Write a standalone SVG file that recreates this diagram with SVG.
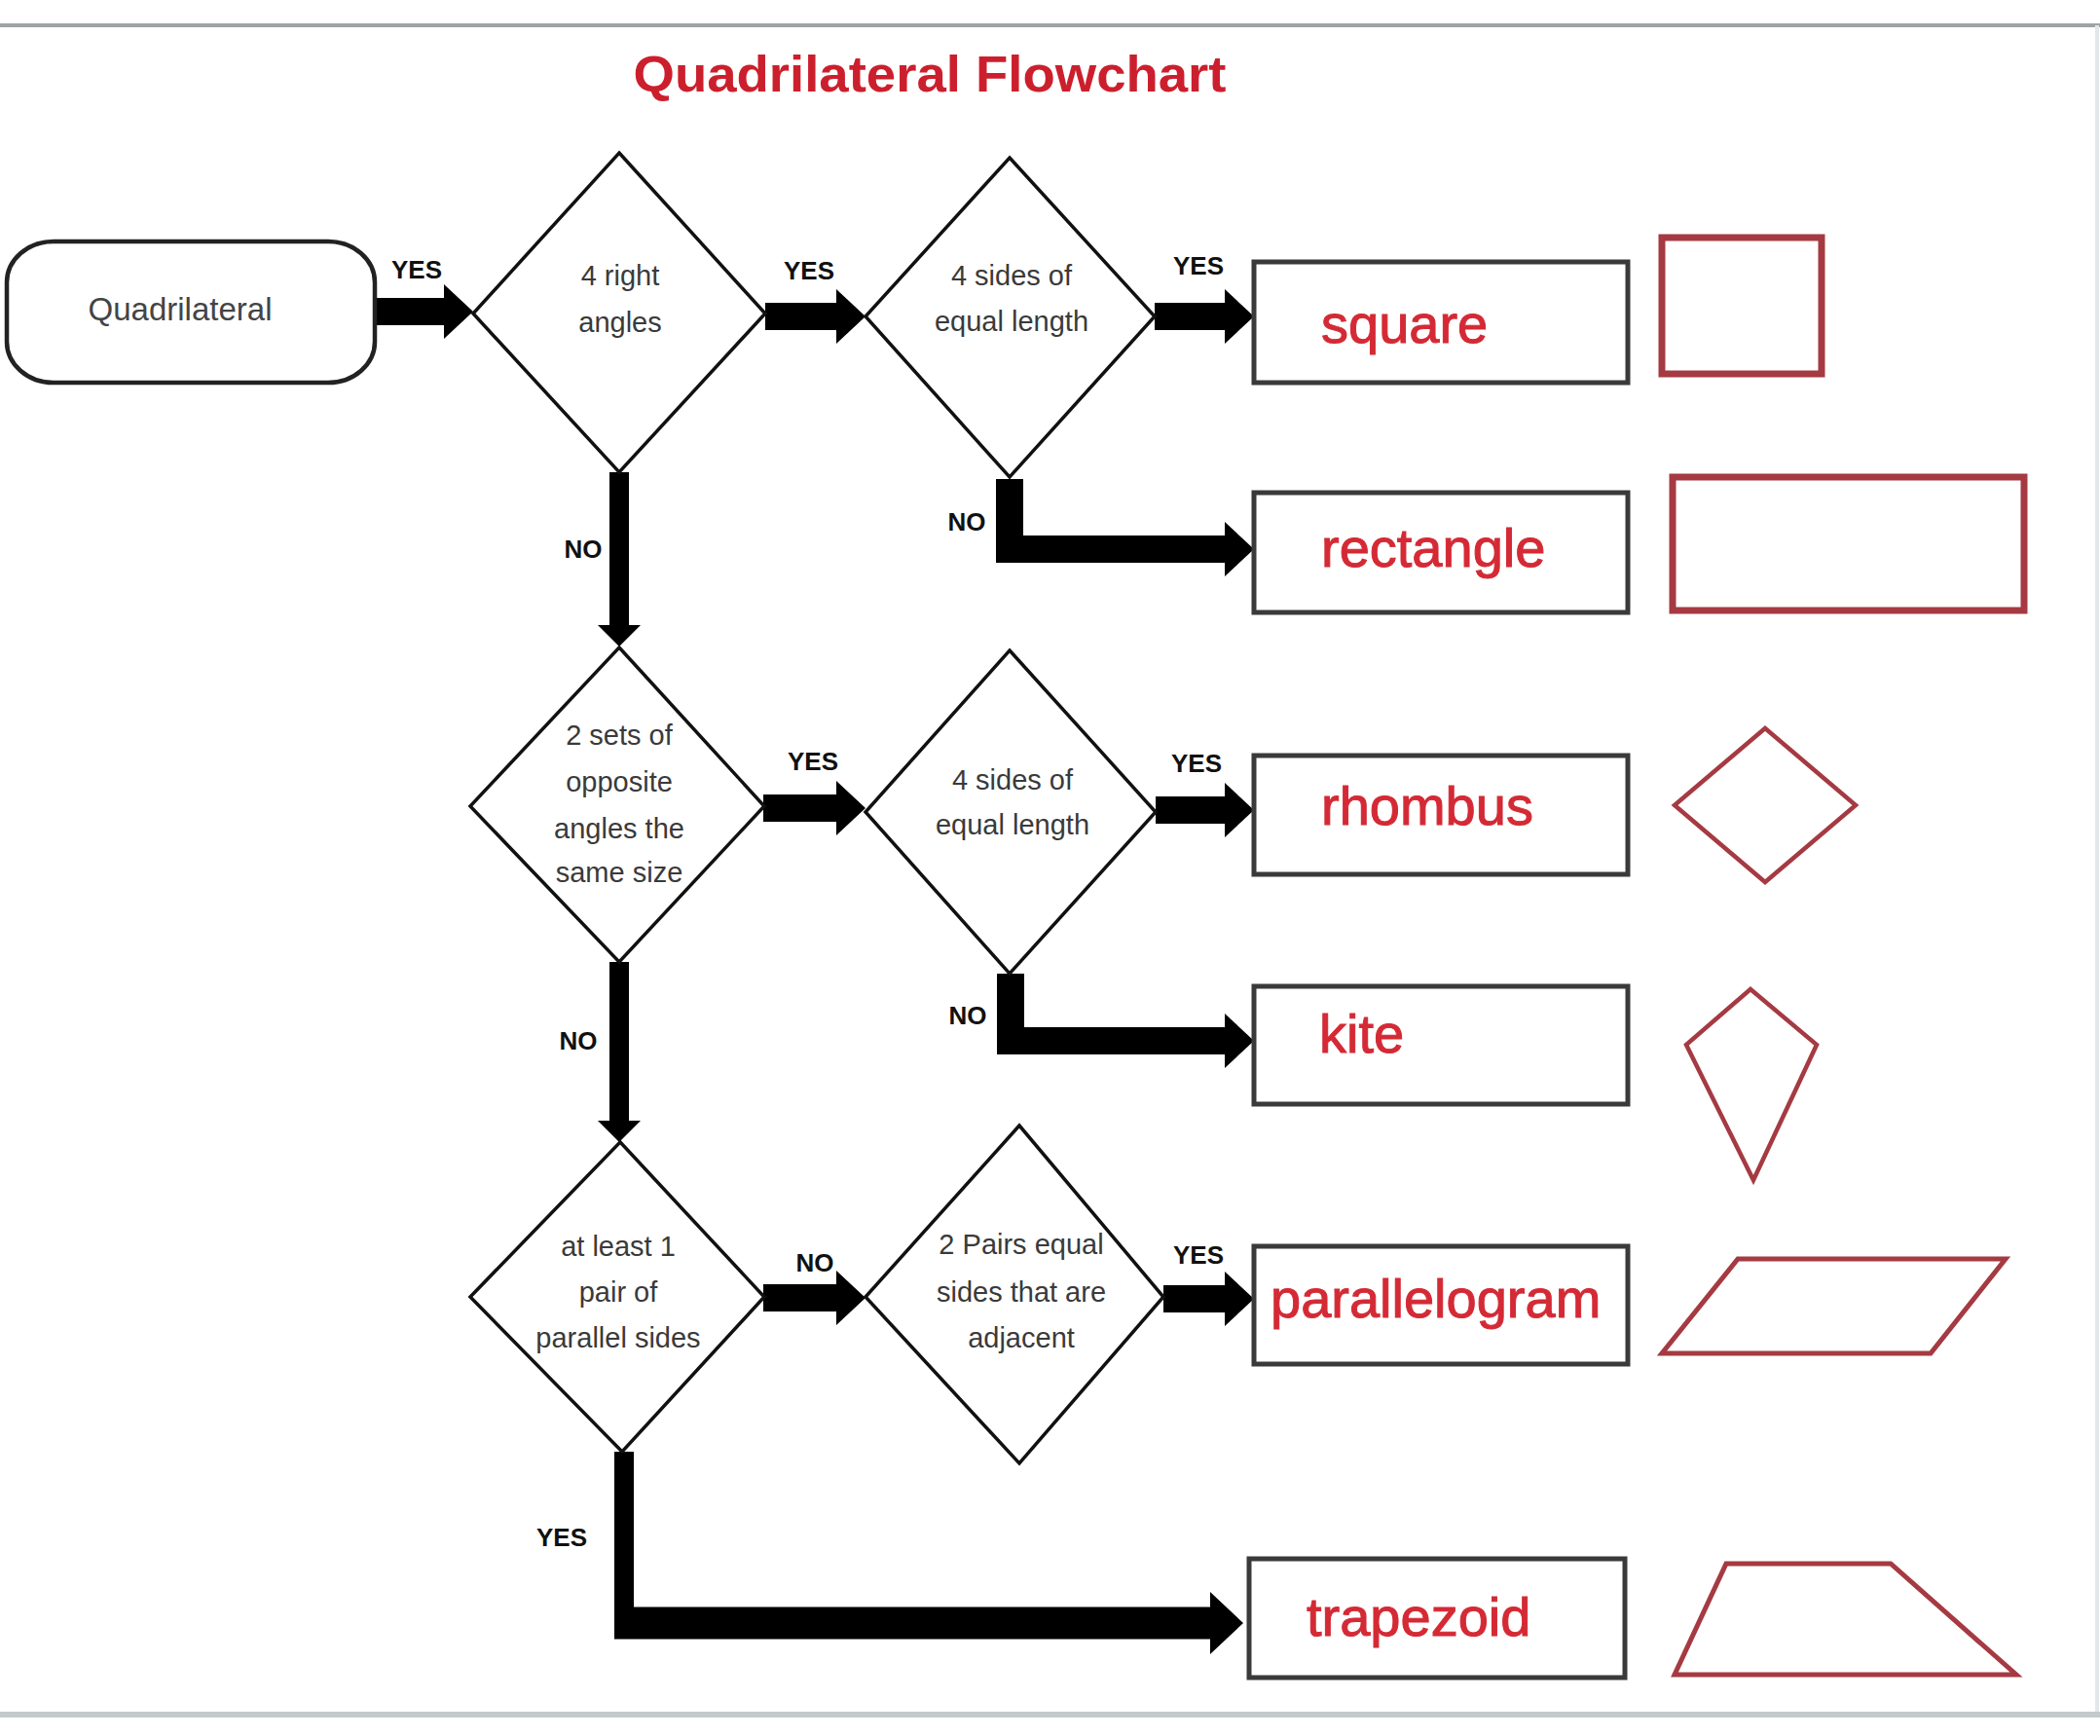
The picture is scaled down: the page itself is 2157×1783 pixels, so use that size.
<svg xmlns="http://www.w3.org/2000/svg" width="2157" height="1783" viewBox="0 0 2157 1783">
<defs>
<style>
.frame{fill:none;stroke-linecap:butt}
.term{fill:#fff;stroke:#222;stroke-width:4.5}
.dia{fill:#fff;stroke:#111;stroke-width:3.5;stroke-linejoin:miter}
.box{fill:#fff;stroke:#3a3a3a;stroke-width:5}
.shape{fill:none;stroke:#a53a42;stroke-linejoin:miter}
.conn{fill:none;stroke:#000;stroke-linecap:butt;stroke-linejoin:miter}
.dt{font-family:"Liberation Sans",Arial,sans-serif;font-size:29px;fill:#3a3a3a;text-anchor:middle}
.lbl{font-family:"Liberation Sans",Arial,sans-serif;font-size:26px;font-weight:bold;fill:#111;text-anchor:middle}
.res{font-family:"Liberation Sans",Arial,sans-serif;font-size:56px;fill:#d42a35;stroke:#d42a35;stroke-width:1}
.title{font-family:"Liberation Sans",Arial,sans-serif;font-size:52px;font-weight:bold;fill:#cc1f2d;text-anchor:middle}
</style>
<marker id="ahM" markerUnits="userSpaceOnUse" markerWidth="30" markerHeight="56" refX="0" refY="28" orient="auto">
<path d="M0,0 L30,28 L0,56 Z" fill="#000"/>
</marker>
<marker id="ahS" markerUnits="userSpaceOnUse" markerWidth="22" markerHeight="44" refX="0" refY="22" orient="auto">
<path d="M0,0 L22,22 L0,44 Z" fill="#000"/>
</marker>
<marker id="ahL" markerUnits="userSpaceOnUse" markerWidth="34" markerHeight="64" refX="0" refY="32" orient="auto">
<path d="M0,0 L34,32 L0,64 Z" fill="#000"/>
</marker>
</defs>
<rect width="2157" height="1783" fill="#fff"/>
<g id="frame">
<line class="frame" x1="0" y1="26" x2="2157" y2="26" stroke="#9ea4a6" stroke-width="4"/>
<line class="frame" x1="2154" y1="26" x2="2154" y2="1761" stroke="#e2e8ea" stroke-width="4"/>
<line class="frame" x1="0" y1="1761" x2="2157" y2="1761" stroke="#c4c9cb" stroke-width="6"/>
</g>
<text id="title" class="title" x="955" y="94" textLength="609" lengthAdjust="spacingAndGlyphs">Quadrilateral Flowchart</text>

<g id="connectors">
<path class="conn" stroke-width="28" d="M385,320 H456" marker-end="url(#ahM)"/>
<path class="conn" stroke-width="28" d="M786,325 H859" marker-end="url(#ahM)"/>
<path class="conn" stroke-width="28" d="M1186,325 H1258" marker-end="url(#ahM)"/>
<path class="conn" stroke-width="28" d="M1037,492 V564 H1258" marker-end="url(#ahM)"/>
<path class="conn" stroke-width="20" d="M636,485 V642" marker-end="url(#ahS)"/>
<path class="conn" stroke-width="28" d="M784,830 H859" marker-end="url(#ahM)"/>
<path class="conn" stroke-width="28" d="M1187,832 H1258" marker-end="url(#ahM)"/>
<path class="conn" stroke-width="28" d="M1038,1000 V1069 H1258" marker-end="url(#ahM)"/>
<path class="conn" stroke-width="20" d="M636,988 V1151" marker-end="url(#ahS)"/>
<path class="conn" stroke-width="28" d="M784,1333 H859" marker-end="url(#ahM)"/>
<path class="conn" stroke-width="28" d="M1195,1334 H1258" marker-end="url(#ahM)"/>
<path class="conn" stroke-width="20" d="M641,1491 V1683"/>
<path class="conn" stroke-width="33" d="M631,1667 H1243" marker-end="url(#ahL)"/>
</g>

<g id="labels">
<text class="lbl" x="428" y="286">YES</text>
<text class="lbl" x="831" y="287">YES</text>
<text class="lbl" x="1231" y="282">YES</text>
<text class="lbl" x="599" y="573">NO</text>
<text class="lbl" x="993" y="545">NO</text>
<text class="lbl" x="835" y="791">YES</text>
<text class="lbl" x="1229" y="793">YES</text>
<text class="lbl" x="594" y="1078">NO</text>
<text class="lbl" x="994" y="1052">NO</text>
<text class="lbl" x="837" y="1306">NO</text>
<text class="lbl" x="1231" y="1298">YES</text>
<text class="lbl" x="577" y="1588">YES</text>
</g>

<g id="start">
<rect class="term" x="7" y="248" width="378" height="145" rx="48" ry="42"/>
<text x="185" y="329" style="font-family:'Liberation Sans',Arial,sans-serif;font-size:33px;fill:#444;text-anchor:middle">Quadrilateral</text>
</g>

<g id="q1">
<polygon class="dia" points="636,157 786,322 636,485 486,322"/>
<text class="dt" x="637" y="293">4 right</text>
<text class="dt" x="637" y="341">angles</text>
</g>
<g id="q2">
<polygon class="dia" points="1037,162 1186,325 1037,490 889,325"/>
<text class="dt" x="1039" y="293">4 sides of</text>
<text class="dt" x="1039" y="340">equal length</text>
</g>
<g id="q3">
<polygon class="dia" points="636,665 785,828 636,988 483,828"/>
<text class="dt" x="636" y="765">2 sets of</text>
<text class="dt" x="636" y="813">opposite</text>
<text class="dt" x="636" y="861">angles the</text>
<text class="dt" x="636" y="906">same size</text>
</g>
<g id="q4">
<polygon class="dia" points="1037,668 1187,834 1037,1000 889,834"/>
<text class="dt" x="1040" y="811">4 sides of</text>
<text class="dt" x="1040" y="857">equal length</text>
</g>
<g id="q5">
<polygon class="dia" points="637,1173 785,1332 639,1491 483,1332"/>
<text class="dt" x="635" y="1290">at least 1</text>
<text class="dt" x="635" y="1337">pair of</text>
<text class="dt" x="635" y="1384">parallel sides</text>
</g>
<g id="q6">
<polygon class="dia" points="1047,1156 1195,1332 1047,1503 889,1332"/>
<text class="dt" x="1049" y="1288">2 Pairs equal</text>
<text class="dt" x="1049" y="1337">sides that are</text>
<text class="dt" x="1049" y="1384">adjacent</text>
</g>

<g id="square">
<rect class="box" x="1288" y="269" width="384" height="124"/>
<text class="res" x="1357" y="352">square</text>
</g>
<g id="rectangle">
<rect class="box" x="1288" y="506" width="384" height="123"/>
<text class="res" x="1357" y="582">rectangle</text>
</g>
<g id="rhombus">
<rect class="box" x="1288" y="776" width="384" height="122"/>
<text class="res" x="1357" y="847">rhombus</text>
</g>
<g id="kite">
<rect class="box" x="1288" y="1013" width="384" height="121"/>
<text class="res" x="1355" y="1081">kite</text>
</g>
<g id="parallelogram">
<rect class="box" x="1288" y="1280" width="384" height="121"/>
<text class="res" x="1305" y="1353">parallelogram</text>
</g>
<g id="trapezoid">
<rect class="box" x="1283" y="1601" width="386" height="122"/>
<text class="res" x="1342" y="1680">trapezoid</text>
</g>

<g id="shapes">
<rect class="shape" stroke-width="7" x="1707" y="244" width="164" height="140"/>
<rect class="shape" stroke-width="7" x="1718" y="490" width="361" height="137"/>
<polygon class="shape" stroke-width="4.5" points="1813,748 1906,827 1813,906 1720,827"/>
<polygon class="shape" stroke-width="4.5" points="1798,1016 1866,1073 1801,1212 1732,1073"/>
<polygon class="shape" stroke-width="5" points="1785,1293 2060,1293 1983,1390 1707,1390"/>
<polygon class="shape" stroke-width="5" points="1773,1606 1942,1606 2071,1720 1720,1720"/>
</g>
</svg>
